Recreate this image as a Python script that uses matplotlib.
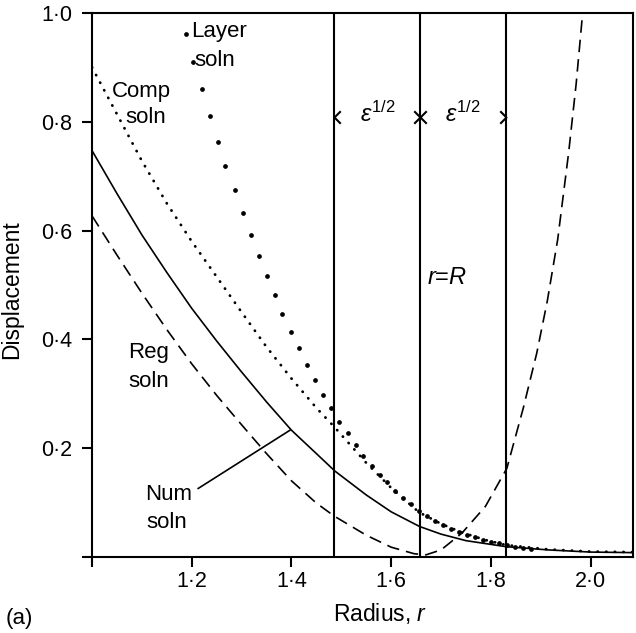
import matplotlib
matplotlib.use('Agg')
import matplotlib.pyplot as plt

plt.rcParams['font.family'] = ['Liberation Sans', 'DejaVu Sans']
plt.rcParams['mathtext.fontset'] = 'custom'
plt.rcParams['mathtext.rm'] = 'Liberation Sans'
plt.rcParams['mathtext.it'] = 'Liberation Sans:italic'
plt.rcParams['mathtext.bf'] = 'Liberation Sans:bold'

# ---- data ----
num_r = [1.0, 1.05, 1.10, 1.15, 1.20, 1.25, 1.30, 1.35, 1.40, 1.45, 1.487,
         1.55, 1.60, 1.657, 1.70, 1.75, 1.83, 1.915, 2.0, 2.085]
num_y = [0.747, 0.668, 0.592, 0.523, 0.457, 0.397, 0.34, 0.285, 0.233, 0.19, 0.158,
         0.114, 0.083, 0.056, 0.042, 0.030, 0.019, 0.013, 0.009, 0.008]

comp_r = [1.0, 1.05, 1.10, 1.15, 1.20, 1.25, 1.30, 1.35, 1.40, 1.45, 1.485,
          1.55, 1.60, 1.656, 1.70, 1.742, 1.79, 1.83, 1.915, 2.0, 2.085]
comp_y = [0.900, 0.814, 0.728, 0.65, 0.58, 0.515, 0.45, 0.386, 0.328, 0.274, 0.24,
          0.173, 0.127, 0.082, 0.061, 0.045, 0.031, 0.022, 0.014, 0.010, 0.009]

reg_r = [1.0, 1.05, 1.10, 1.15, 1.20, 1.25, 1.30, 1.35, 1.40, 1.45, 1.486,
         1.55, 1.60, 1.646, 1.67, 1.70, 1.742, 1.789, 1.832, 1.865, 1.892,
         1.913, 1.934, 1.956, 1.971, 1.984]
reg_y = [0.627, 0.555, 0.485, 0.418, 0.355, 0.297, 0.243, 0.19, 0.14, 0.099, 0.075,
         0.04, 0.018, 0.006, 0.004, 0.013, 0.044, 0.093, 0.163, 0.274, 0.375,
         0.47, 0.584, 0.744, 0.87, 1.0]

layer_r = [1.188, 1.203, 1.221, 1.236, 1.252, 1.267, 1.286, 1.302, 1.318, 1.334,
           1.351, 1.367, 1.382, 1.40, 1.416, 1.432, 1.447, 1.464, 1.48, 1.495,
           1.513, 1.529, 1.543, 1.561, 1.577, 1.592, 1.608, 1.624, 1.64, 1.656,
           1.672, 1.688, 1.704, 1.72, 1.736, 1.752, 1.768, 1.784, 1.80, 1.816,
           1.832, 1.848, 1.864, 1.88]
layer_y = [0.961, 0.909, 0.860, 0.810, 0.763, 0.718, 0.674, 0.632, 0.591, 0.553,
           0.516, 0.481, 0.446, 0.413, 0.384, 0.352, 0.325, 0.297, 0.273, 0.249,
           0.227, 0.205, 0.185, 0.167, 0.150, 0.137, 0.122, 0.109, 0.097, 0.085,
           0.075, 0.066, 0.058, 0.051, 0.046, 0.041, 0.036, 0.032, 0.028, 0.025,
           0.022, 0.019, 0.017, 0.015]

boundary_r = [1.485, 1.657, 1.83]   # R - eps^1/2, R, R + eps^1/2

xticks = [1.0, 1.2, 1.4, 1.6, 1.8, 2.0]
xticklabels = ['', '1·2', '1·4', '1·6', '1·8', '2·0']
yticks = [0.0, 0.2, 0.4, 0.6, 0.8, 1.0]
yticklabels = ['', '0·2', '0·4', '0·6', '0·8', '1·0']

# ---- figure ----
fig = plt.figure(figsize=(6.36, 6.33), dpi=100)
ax = fig.add_axes([0.1447, 0.1201, 0.8506, 0.8594])
ax.set_xlim(1.0, 2.085)
ax.set_ylim(0.0, 1.0)

for xv in boundary_r:
    ax.axvline(xv, color='black', lw=1.5)

ax.plot(num_r, num_y, color='black', lw=1.2, solid_capstyle='round',
        solid_joinstyle='round')
ax.plot(reg_r, reg_y, color='black', lw=1.2, linestyle=(0, (7.5, 4.2)))
ax.plot(comp_r, comp_y, color='black', lw=2.0, linestyle=(0, (0.1, 3.0)),
        dash_capstyle='round')
ax.plot(layer_r, layer_y, linestyle='none', marker='o', markersize=2.4,
        color='black')

# dimension arrows
chev_left = [(1, 1), (0, 0), (1, -1)]
chev_right = [(-1, 1), (0, 0), (-1, -1)]
ya = 0.808
ax.plot([boundary_r[0], boundary_r[1]], [ya, ya], linestyle='none',
        marker=chev_left, markersize=9, markerfacecolor='none',
        markeredgecolor='black', markeredgewidth=1.5)
ax.plot([boundary_r[1], boundary_r[2]], [ya, ya], linestyle='none',
        marker=chev_right, markersize=9, markerfacecolor='none',
        markeredgecolor='black', markeredgewidth=1.5)

fs = 16
ax.text(1.537, 0.80, r'$\varepsilon^{1/2}$', fontsize=fs + 1, va='baseline')
ax.text(1.707, 0.80, r'$\varepsilon^{1/2}$', fontsize=fs + 1, va='baseline')
ax.text(1.672, 0.501, r'$r$=$R$', fontsize=fs + 1, va='baseline')

ax.text(1.199, 0.956, 'Layer', fontsize=fs, va='baseline')
ax.text(1.205, 0.903, 'soln', fontsize=fs, va='baseline')
ax.text(1.040, 0.845, 'Comp', fontsize=fs, va='baseline')
ax.text(1.066, 0.798, 'soln', fontsize=fs, va='baseline')
ax.text(1.072, 0.365, 'Reg', fontsize=fs, va='baseline')
ax.text(1.073, 0.312, 'soln', fontsize=fs, va='baseline')
ax.text(1.107, 0.104, 'Num', fontsize=fs, va='baseline')
ax.text(1.108, 0.053, 'soln', fontsize=fs, va='baseline')
ax.plot([1.213, 1.397], [0.126, 0.233], color='black', lw=1.2)

ax.set_xticks(xticks)
ax.set_xticklabels(xticklabels)
ax.set_yticks(yticks)
ax.set_yticklabels(yticklabels)
ax.tick_params(direction='out', length=7, width=1.5, labelsize=15.5)
ax.tick_params(axis='x', pad=3)
ax.tick_params(axis='y', pad=7)

for sp in ax.spines.values():
    sp.set_linewidth(1.5)

fig.text(0.019, 0.542, 'Displacement', rotation=90, fontsize=16.5,
         ha='center', va='center')
fig.text(0.524, 0.019, 'Radius, $r$', fontsize=16.5, ha='left', va='baseline')
fig.text(0.009, 0.015, '(a)', fontsize=16, ha='left', va='baseline')

fig.savefig('out.png', dpi=100)
